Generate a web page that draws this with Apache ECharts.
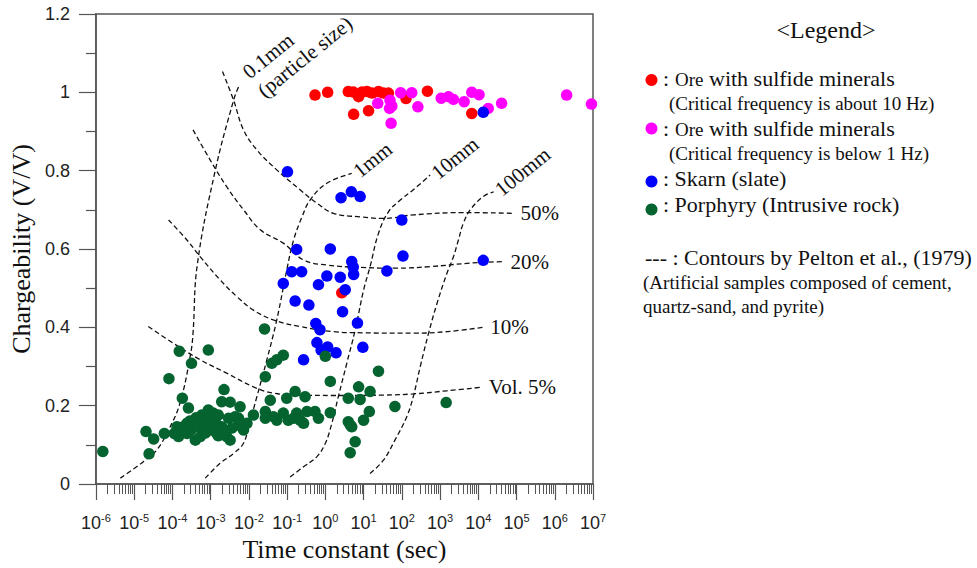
<!DOCTYPE html>
<html><head><meta charset="utf-8">
<script src="https://cdn.jsdelivr.net/npm/echarts@6/dist/echarts.min.js"></script>
<style>html,body{margin:0;padding:0;background:#fff}#c{width:977px;height:568px}</style>
</head><body><div id="c"></div>
<script>
// x values are log10(time constant in sec)
const xTickExponents = [-6,-5,-4,-3,-2,-1,0,1,2,3,4,5,6,7];
const yTickValues = [0,0.2,0.4,0.6,0.8,1,1.2];

const redX = [-0.27,0.06,0.60,0.73,0.87,0.96,1.09,1.22,1.39,1.52,1.65,0.74,1.13,2.11,2.67,3.83,0.43];
const redY = [0.993,1.000,1.002,1.001,0.989,1.001,1.002,0.998,1.002,0.998,0.998,0.944,0.953,0.984,1.003,0.946,0.488];

const magentaX = [1.37,1.69,1.74,1.68,1.97,2.26,2.42,1.72,3.03,3.22,3.35,3.63,3.83,4.02,4.26,4.61,6.31,6.96];
const magentaY = [0.972,0.980,0.965,0.959,0.999,0.999,0.963,0.921,0.985,0.989,0.982,0.976,1.000,0.994,0.959,0.972,0.993,0.970];

const blueX = [-0.99,0.41,0.68,0.91,2.00,-0.75,0.13,2.03,4.13,0.69,0.73,0.74,-0.88,-0.62,0.04,0.39,1.61,-1.10,-0.18,0.52,-0.79,-0.43,0.45,0.84,-0.25,-0.14,-0.22,-0.11,0.06,0.28,-0.57,0.98,4.13];
const blueY = [0.797,0.731,0.746,0.734,0.674,0.599,0.600,0.582,0.571,0.568,0.554,0.535,0.542,0.542,0.531,0.528,0.544,0.512,0.509,0.496,0.467,0.457,0.440,0.411,0.410,0.394,0.361,0.342,0.350,0.335,0.317,0.349,0.949];

const greenX = [-5.82,-4.69,-4.49,-4.61,-4.21,-3.95,-4.09,-3.82,-3.50,-3.06,-3.74,-3.58,-2.65,-2.71,-2.49,-2.23,-3.71,-3.51,-3.32,-3.14,-2.93,-2.88,-2.80,-2.99,-2.71,-2.58,-2.53,-2.27,-2.18,-2.14,-1.88,-3.40,-3.23,-3.84,-3.06,-3.23,-3.62,-3.88,-3.27,-2.84,-2.49,-2.36,-2.27,-2.05,-3.10,-3.45,-3.62,-1.59,-1.40,-1.27,-1.10,-1.57,-1.44,-1.01,-0.79,-0.53,-1.57,-1.36,-1.10,-0.97,-0.75,-0.66,-0.48,-0.27,-0.18,0.13,-1.57,-1.27,-0.83,-0.57,0.00,0.13,1.39,0.60,0.87,0.91,1.17,1.15,1.82,3.16,0.60,0.69,1.00,0.65,0.78,0.65,-3.38,-3.01,-2.65,-2.80,-2.44,-3.14,-3.54,-3.74];
const greenY = [0.083,0.134,0.115,0.077,0.129,0.129,0.269,0.339,0.308,0.342,0.219,0.194,0.241,0.210,0.209,0.197,0.146,0.138,0.163,0.146,0.181,0.159,0.176,0.138,0.146,0.121,0.168,0.168,0.146,0.138,0.176,0.112,0.138,0.121,0.189,0.176,0.155,0.146,0.121,0.129,0.112,0.172,0.151,0.155,0.168,0.146,0.129,0.396,0.308,0.317,0.329,0.274,0.214,0.219,0.236,0.223,0.185,0.172,0.181,0.163,0.181,0.163,0.185,0.185,0.168,0.182,0.168,0.163,0.168,0.155,0.326,0.262,0.288,0.219,0.248,0.216,0.236,0.185,0.198,0.208,0.159,0.146,0.163,0.151,0.108,0.080,0.169,0.158,0.138,0.123,0.143,0.130,0.161,0.133];

// Pelton et al. (1979) contours: particle size (bottom -> top)
const c01mmX = [-5.36,-4.76,-4.41,-4.10,-3.80,-3.52,-3.46,-3.35,-2.88,-2.40,-2.27];
const c01mmY = [0.015,0.057,0.087,0.138,0.207,0.334,0.386,0.559,0.80,0.98,1.014];
const c1mmX = [-3.14,-2.75,-2.40,-2.14,-2.01,-1.79,-1.53,-1.27,-1.01,-0.83,-0.61,-0.40,0.04,0.69];
const c1mmY = [0.015,0.053,0.078,0.104,0.146,0.223,0.317,0.419,0.546,0.623,0.682,0.725,0.768,0.793];
const c10mmX = [-0.92,-0.57,-0.22,0.00,0.17,0.34,0.56,0.78,1.00,1.17,1.39,1.65,1.96,2.30,2.74];
const c10mmY = [0.018,0.044,0.070,0.104,0.155,0.223,0.308,0.393,0.495,0.555,0.640,0.695,0.725,0.751,0.789];
const c100mmX = [1.17,1.52,1.82,2.13,2.30,2.48,2.70,2.92,3.18,3.35,3.48,3.61,3.79,4.13,4.40];
const c100mmY = [0.027,0.061,0.112,0.172,0.223,0.299,0.385,0.461,0.538,0.580,0.623,0.666,0.700,0.734,0.746];
// volume contours (left -> right)
const c50X = [-2.69,-2.40,-2.14,-1.79,-1.27,-0.66,-0.22,0.21,0.91,1.52,2.30,3.61,4.92];
const c50Y = [1.053,0.980,0.904,0.853,0.802,0.751,0.717,0.691,0.682,0.678,0.687,0.693,0.691];
const c20X = [-3.46,-3.01,-2.58,-2.14,-1.70,-1.10,-0.57,0.04,0.91,1.87,2.74,3.79,4.66];
const c20Y = [0.904,0.827,0.759,0.700,0.649,0.615,0.572,0.559,0.553,0.551,0.555,0.564,0.568];
const c10X = [-4.10,-3.62,-3.27,-2.75,-2.31,-1.88,-1.36,-0.66,0.21,1.00,2.30,3.18,4.13];
const c10Y = [0.674,0.623,0.580,0.521,0.478,0.444,0.419,0.402,0.389,0.386,0.385,0.389,0.400];
const c5X = [-4.63,-3.97,-3.27,-2.58,-1.88,-1.36,-0.66,0.21,1.52,2.30,3.18,4.09];
const c5Y = [0.402,0.359,0.317,0.283,0.248,0.232,0.227,0.226,0.227,0.230,0.238,0.247];

const sizeLabels = ['0.1mm\n(particle size)','1mm','10mm','100mm'];
const volLabels = ['50%','20%','10%','Vol. 5%'];

const SERIF = '"Liberation Serif","Times New Roman",serif';
const SANS = '"Liberation Sans",Arial,sans-serif';
const AXC = '#555';

const zip = (xs, ys) => xs.map((x, i) => [x, ys[i]]);

const minorTicks = [];
for (let n = xTickExponents[0]; n < xTickExponents[xTickExponents.length-1]; n++) {
  for (let k = 2; k <= 9; k++) minorTicks.push(n + Math.log10(k));
}

function contour(xs, ys, text, isSize) {
  const pts = zip(xs, ys).map(p => ({value: p}));
  const last = pts[pts.length-1];
  const multi = text.indexOf('\n') >= 0;
  last.label = isSize ? {
    show: true, formatter: text, position: 'right', distance: 4, rotate: 39,
    align: 'left', verticalAlign: 'middle', offset: multi ? [10, 4] : [0, 0],
    color: '#111', fontFamily: SERIF, fontSize: 21, lineHeight: 24
  } : {
    show: true, formatter: text, position: 'right', distance: 7,
    color: '#111', fontFamily: SERIF, fontSize: 21
  };
  return {
    type: 'line', data: pts, smooth: 0.4, showSymbol: true, symbol: 'circle', symbolSize: 0.01,
    itemStyle: {color: '#111'}, silent: true, z: 1,
    lineStyle: {color: '#111', width: 1.3, type: [5, 3]},
    label: {show: false}
  };
}

function scatter(name, xs, ys, color) {
  return {name, type: 'scatter', data: zip(xs, ys), symbolSize: 11.5, z: 3,
    itemStyle: {color, opacity: 1}, silent: true};
}

const chart = echarts.init(document.getElementById('c'), null, {renderer: 'svg'});
const legendX = 651.5;
const F22 = '22px ' + SERIF, F19 = '19px ' + SERIF;
const txt = (text, x, y, font) => ({type: 'text', x, y, style: {text, fill: '#111', font, textVerticalAlign: 'middle'}});

chart.setOption({
  animation: false,
  backgroundColor: '#fff',
  grid: {left: 95.7, top: 14, right: 384, bottom: 84, show: true, borderColor: AXC, borderWidth: 1.5},
  xAxis: [{
    type: 'value', min: -6, max: 7, interval: 1,
    name: 'Time constant (sec)', nameLocation: 'middle', nameGap: 52,
    nameTextStyle: {fontFamily: SERIF, fontSize: 26, color: '#111'},
    axisLine: {onZero: false, lineStyle: {color: AXC, width: 1.5}},
    axisTick: {length: 16, lineStyle: {color: AXC, width: 1.2}},
    splitLine: {show: false},
    axisLabel: {
      margin: 28, color: '#222',
      formatter: v => '{b|10}{s|' + v + '}',
      rich: {b: {fontFamily: SANS, fontSize: 18, color: '#222', verticalAlign: 'bottom', lineHeight: 20},
             s: {fontFamily: SANS, fontSize: 11, color: '#222', verticalAlign: 'top', lineHeight: 11}}
    }
  }, {
    type: 'value', min: -6, max: 7, position: 'bottom', gridIndex: 0,
    axisLine: {show: false, onZero: false}, axisLabel: {show: false}, splitLine: {show: false},
    axisTick: {show: true, length: 10, customValues: minorTicks, lineStyle: {color: AXC, width: 1}}
  }],
  yAxis: {
    type: 'value', min: 0, max: 1.2, interval: 0.2,
    name: 'Chargeability (V/V)', nameLocation: 'middle', nameGap: 52,
    nameTextStyle: {fontFamily: SERIF, fontSize: 26, color: '#111'},
    axisLine: {onZero: false, lineStyle: {color: AXC, width: 1.5}},
    axisTick: {length: 17, lineStyle: {color: AXC, width: 1.2}},
    minorTick: {show: true, splitNumber: 2, length: 10, lineStyle: {color: AXC, width: 1.2}},
    splitLine: {show: false}, minorSplitLine: {show: false},
    axisLabel: {margin: 26, color: '#222', fontFamily: SANS, fontSize: 18}
  },
  series: [
    contour(c01mmX, c01mmY, sizeLabels[0], true),
    contour(c1mmX, c1mmY, sizeLabels[1], true),
    contour(c10mmX, c10mmY, sizeLabels[2], true),
    contour(c100mmX, c100mmY, sizeLabels[3], true),
    contour(c50X, c50Y, volLabels[0], false),
    contour(c20X, c20Y, volLabels[1], false),
    contour(c10X, c10Y, volLabels[2], false),
    contour(c5X, c5Y, volLabels[3], false),
    scatter('Ore (about 10 Hz)', redX, redY, '#ff0000'),
    scatter('Ore (below 1 Hz)', magentaX, magentaY, '#ff00ff'),
    scatter('Skarn (slate)', blueX, blueY, '#0000ff'),
    scatter('Porphyry (Intrusive rock)', greenX, greenY, '#04632f')
  ],
  graphic: [
    {type: 'text', x: 826, y: 30, style: {text: '<Legend>', fill: '#111', font: '24px ' + SERIF, textAlign: 'center', textVerticalAlign: 'middle'}},
    {type: 'circle', shape: {cx: legendX, cy: 80, r: 6}, style: {fill: '#ff0000'}},
    txt(':', 663, 78, F22), txt('Ore', 675, 79, F19), txt('with sulfide minerals', 709, 78, F22),
    txt('(Critical frequency is about 10 Hz)', 669, 103, F19),
    {type: 'circle', shape: {cx: legendX, cy: 128.5, r: 6}, style: {fill: '#ff00ff'}},
    txt(':', 663, 128, F22), txt('Ore', 675, 129, F19), txt('with sulfide minerals', 709, 128, F22),
    txt('(Critical frequency is below 1 Hz)', 669, 153, F19),
    {type: 'circle', shape: {cx: legendX, cy: 181.5, r: 6}, style: {fill: '#0000ff'}},
    txt(': Skarn (slate)', 663, 178, F22),
    {type: 'circle', shape: {cx: legendX, cy: 209.5, r: 6}, style: {fill: '#04632f'}},
    txt(': Porphyry (Intrusive rock)', 663, 204, F22),
    txt('--- : Contours by Pelton et al., (1979)', 645, 257, F22),
    txt('(Artificial samples composed of cement,', 643, 282, F19),
    txt('quartz-sand, and pyrite)', 643, 306.5, F19)
  ]
});
</script>
</body></html>
